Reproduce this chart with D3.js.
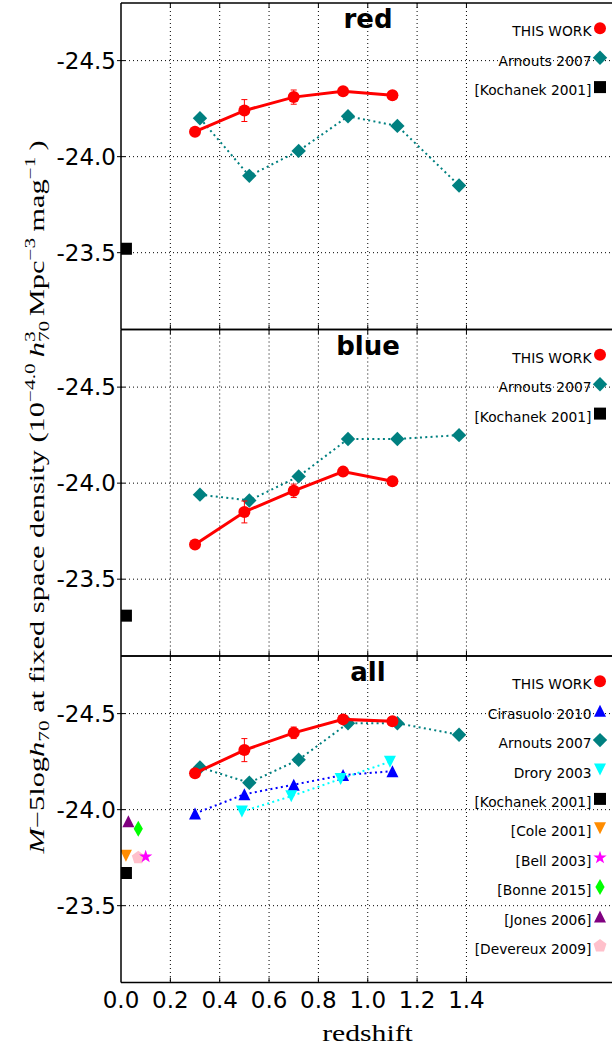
<!DOCTYPE html>
<html><head><meta charset="utf-8">
<script src="https://cdn.jsdelivr.net/npm/d3@7"></script>
<style>body{margin:0;background:#fff}svg{display:block}</style>
</head><body><svg id="c" width="612" height="1051"></svg>
<script>
// ---------- data ----------
const zThis = [0.30, 0.50, 0.70, 0.90, 1.10];
const zArnouts = [0.32, 0.52, 0.72, 0.92, 1.12, 1.37];
const zCirasuolo = [0.30, 0.50, 0.70, 0.90, 1.10];
const zDrory = [0.49, 0.69, 0.89, 1.09];

const redThis = [-24.13, -24.24, -24.31, -24.34, -24.32];
const redThisErr = [0.01, 0.057, 0.037, 0.02, 0.01];
const redArnouts = [-24.20, -23.90, -24.03, -24.21, -24.16, -23.85];
const redKochanek = [[0.02, -23.52]];

const blueThis = [-23.68, -23.85, -23.96, -24.06, -24.01];
const blueThisErr = [0.01, 0.057, 0.035, 0.015, 0.01];
const blueArnouts = [-23.94, -23.91, -24.035, -24.23, -24.23, -24.25];
const blueKochanek = [[0.02, -23.31]];

const allThis = [-24.19, -24.31, -24.40, -24.47, -24.46];
const allThisErr = [0.015, 0.06, 0.03, 0.015, 0.01];
const allArnouts = [-24.22, -24.14, -24.26, -24.45, -24.45, -24.39];
const allCirasuolo = [-23.98, -24.08, -24.13, -24.18, -24.20];
const allDrory = [-23.99, -24.07, -24.16, -24.25];
const allKochanek = [[0.02, -23.67]];
const allCole = [[0.02, -23.76]];
const allBell = [[0.10, -23.755]];
const allBonne = [[0.07, -23.90]];
const allJones = [[0.03, -23.94]];
const allDevereux = [[0.07, -23.75]];

const xTicks = [0.0, 0.2, 0.4, 0.6, 0.8, 1.0, 1.2, 1.4];
const xTickLabels = ["0.0", "0.2", "0.4", "0.6", "0.8", "1.0", "1.2", "1.4"];
const yTicks = [-24.5, -24.0, -23.5];
const yTickLabels = ["-24.5", "-24.0", "-23.5"];
const panelTitles = ["red", "blue", "all"];

// ---------- layout ----------
const svg = d3.select("#c");
const left = 121, right = 614.5, top0 = 3, panelH = 326.5;
const x = d3.scaleLinear().domain([0, 2]).range([left, right]);
const zip = (a, b) => a.map((v, i) => [v, b[i]]);

function shape(type) {
  const s = 6;
  switch (type) {
    case "circle": return d3.symbol(d3.symbolCircle, Math.PI * 36)();
    case "diamond": return "M0,-7.2L7.2,0L0,7.2L-7.2,0Z";
    case "thin": return "M0,-8L4.6,0L0,8L-4.6,0Z";
    case "up": return `M0,${-s}L${s},${s}L${-s},${s}Z`;
    case "down": return `M0,${s}L${s},${-s}L${-s},${-s}Z`;
    case "square": return "M-6,-6H6V6H-6Z";
    case "star": {
      let p = [];
      for (let k = 0; k < 10; k++) {
        const r = k % 2 ? 2.7 : 7, a = -Math.PI / 2 + k * Math.PI / 5;
        p.push([r * Math.cos(a), r * Math.sin(a)]);
      }
      return "M" + p.map(q => q.join(",")).join("L") + "Z";
    }
    case "pentagon": {
      let p = [];
      for (let k = 0; k < 5; k++) {
        const a = -Math.PI / 2 + k * 2 * Math.PI / 5;
        p.push([6.8 * Math.cos(a), 6.8 * Math.sin(a)]);
      }
      return "M" + p.map(q => q.join(",")).join("L") + "Z";
    }
  }
}

const C = {
  red: "#ff0000", teal: "#008080", blue: "#0000ff", cyan: "#00ffff",
  black: "#000000", orange: "#ff8c00", magenta: "#ff00ff", green: "#00ff00",
  purple: "#800080", pink: "#ffc0cb"
};

const panels = [
  {
    title: panelTitles[0],
    series: [
      { pts: zip(zArnouts, redArnouts), color: C.teal, sym: "diamond", line: "dot" },
      { pts: redKochanek, color: C.black, sym: "square" },
    ],
    thisWork: zip(zThis, redThis), err: redThisErr,
    legend: [["THIS WORK", "circle", C.red], ["Arnouts 2007", "diamond", C.teal], ["[Kochanek 2001]", "square", C.black]]
  },
  {
    title: panelTitles[1],
    series: [
      { pts: zip(zArnouts, blueArnouts), color: C.teal, sym: "diamond", line: "dot" },
      { pts: blueKochanek, color: C.black, sym: "square" },
    ],
    thisWork: zip(zThis, blueThis), err: blueThisErr,
    legend: [["THIS WORK", "circle", C.red], ["Arnouts 2007", "diamond", C.teal], ["[Kochanek 2001]", "square", C.black]]
  },
  {
    title: panelTitles[2],
    series: [
      { pts: zip(zArnouts, allArnouts), color: C.teal, sym: "diamond", line: "dot" },
      { pts: zip(zCirasuolo, allCirasuolo), color: C.blue, sym: "up", line: "dot" },
      { pts: zip(zDrory, allDrory), color: C.cyan, sym: "down", line: "dot" },
      { pts: allKochanek, color: C.black, sym: "square" },
      { pts: allCole, color: C.orange, sym: "down" },
      { pts: allDevereux, color: C.pink, sym: "pentagon" },
      { pts: allBell, color: C.magenta, sym: "star" },
      { pts: allBonne, color: C.green, sym: "thin" },
      { pts: allJones, color: C.purple, sym: "up" },
    ],
    thisWork: zip(zThis, allThis), err: allThisErr,
    legend: [["THIS WORK", "circle", C.red], ["Cirasuolo 2010", "up", C.blue], ["Arnouts 2007", "diamond", C.teal],
      ["Drory 2003", "down", C.cyan], ["[Kochanek 2001]", "square", C.black], ["[Cole 2001]", "down", C.orange],
      ["[Bell 2003]", "star", C.magenta], ["[Bonne 2015]", "thin", C.green], ["[Jones 2006]", "up", C.purple],
      ["[Devereux 2009]", "pentagon", C.pink]]
  }
];

panels.forEach((p, i) => {
  const top = top0 + i * panelH, bottom = top + panelH;
  const y = d3.scaleLinear().domain([-23.1, -24.8]).range([bottom, top]);
  const g = svg.append("g");

  const cid = "clip" + i;
  svg.append("clipPath").attr("id", cid).append("rect")
    .attr("x", left).attr("y", top).attr("width", right - left).attr("height", panelH);
  const plot = g.append("g").attr("clip-path", `url(#${cid})`);

  plot.selectAll(".gx").data(xTicks.filter(t => t > 0)).join("line")
    .attr("x1", d => x(d)).attr("x2", d => x(d)).attr("y1", top).attr("y2", bottom)
    .attr("stroke", "#000").attr("stroke-width", 1).attr("stroke-dasharray", "1,3");
  plot.selectAll(".gy").data(yTicks).join("line")
    .attr("x1", left).attr("x2", right).attr("y1", d => y(d)).attr("y2", d => y(d))
    .attr("stroke", "#000").attr("stroke-width", 1).attr("stroke-dasharray", "1,3");

  xTicks.filter(t => t > 0).forEach(t => {
    g.append("line").attr("x1", x(t)).attr("x2", x(t)).attr("y1", bottom).attr("y2", bottom - 5).attr("stroke", "#000");
    g.append("line").attr("x1", x(t)).attr("x2", x(t)).attr("y1", top).attr("y2", top + 5).attr("stroke", "#000");
  });
  yTicks.forEach(t => {
    g.append("line").attr("x1", left - 4).attr("x2", left + 4).attr("y1", y(t)).attr("y2", y(t)).attr("stroke", "#000");
  });

  const line = d3.line().x(d => x(d[0])).y(d => y(d[1]));
  p.series.forEach(s => {
    if (s.line) {
      plot.append("path").attr("d", line(s.pts)).attr("fill", "none")
        .attr("stroke", s.color).attr("stroke-width", 2).attr("stroke-dasharray", "2,3.3");
    }
    plot.selectAll(null).data(s.pts).join("path")
      .attr("d", shape(s.sym)).attr("fill", s.color)
      .attr("transform", d => `translate(${x(d[0])},${y(d[1])})`);
  });

  p.thisWork.forEach((d, k) => {
    const e = p.err[k], cx = x(d[0]);
    plot.append("line").attr("x1", cx).attr("x2", cx).attr("y1", y(d[1] - e)).attr("y2", y(d[1] + e)).attr("stroke", C.red).attr("stroke-width", 1);
    [d[1] - e, d[1] + e].forEach(v => plot.append("line").attr("x1", cx - 3).attr("x2", cx + 3).attr("y1", y(v)).attr("y2", y(v)).attr("stroke", C.red).attr("stroke-width", 1));
  });
  plot.append("path").attr("d", line(p.thisWork)).attr("fill", "none").attr("stroke", C.red).attr("stroke-width", 3);
  plot.selectAll(null).data(p.thisWork).join("path")
    .attr("d", shape("circle")).attr("fill", C.red)
    .attr("transform", d => `translate(${x(d[0])},${y(d[1])})`);

  p.legend.forEach((L, k) => {
    const ty = top + 28.3 + k * 29.4;
    g.append("text").attr("x", 591.5).attr("y", ty + 5).attr("text-anchor", "end")
      .attr("font-family", "DejaVu Sans").attr("font-size", 13.8).attr("fill", "#000").text(L[0]);
    g.append("path").attr("d", shape(L[1])).attr("fill", L[2])
      .attr("transform", `translate(600,${ty - 3})`);
  });

  g.append("text").attr("x", 368).attr("y", top + 25).attr("text-anchor", "middle")
    .attr("font-family", "DejaVu Sans").attr("font-weight", "bold").attr("font-size", 26).text(p.title);

  yTicks.forEach((t, k) => {
    g.append("text").attr("x", 116).attr("y", y(t) + 8.3).attr("text-anchor", "end")
      .attr("font-family", "DejaVu Sans").attr("font-size", 23).text(yTickLabels[k]);
  });

  g.append("line").attr("x1", left).attr("x2", left).attr("y1", top).attr("y2", bottom).attr("stroke", "#000").attr("stroke-width", 1.5);
  g.append("line").attr("x1", left).attr("x2", right).attr("y1", top).attr("y2", top).attr("stroke", "#000").attr("stroke-width", 1.5);
  g.append("line").attr("x1", left).attr("x2", right).attr("y1", bottom).attr("y2", bottom).attr("stroke", "#000").attr("stroke-width", 1.5);
});

xTicks.forEach((t, k) => {
  svg.append("text").attr("x", x(t)).attr("y", 1007.5).attr("text-anchor", "middle")
    .attr("font-family", "DejaVu Sans").attr("font-size", 23).text(xTickLabels[k]);
});

const serif = "'Liberation Serif', 'Times New Roman', serif";
const xl = svg.append("text").attr("text-anchor", "middle")
  .attr("font-family", serif).attr("font-size", 24).text("redshift");
{
  const w = xl.node().getBBox().width;
  xl.attr("transform", `translate(367.5,1041) scale(${91 / w},1)`);
}

// y label with sub/superscripts
const yl = svg.append("text").attr("text-anchor", "start")
  .attr("font-family", serif).attr("font-size", 20);
function span(txt, opt) {
  return yl.append("tspan").attr("font-size", opt.fs || 20)
    .attr("font-style", opt.it ? "italic" : "normal").attr("dy", opt.dy || 0).text(txt);
}
span("M", { it: 1 });
span("\u22125log", {});
span("h", { it: 1 });
const s70a = span("70", { fs: 14, dy: 5 });
span(" at fixed space density (10", { dy: -5 });
span("\u22124.0", { fs: 14, dy: -9 });
span("\u2009h", { it: 1, dy: 9 });
const s70b = span("70", { fs: 14, dy: 5 });
const s3 = span("3", { fs: 14, dy: -14 });
const sMpc = span("Mpc", { dy: 9 });
span("\u22123", { fs: 14, dy: -9 });
span("\u2009mag", { dy: 9 });
span("\u22121", { fs: 14, dy: -9 });
span("\u2009)", { dy: 9 });
{
  const w70 = s70b.node().getComputedTextLength();
  const w3 = s3.node().getComputedTextLength();
  s3.attr("dx", -w70);
  sMpc.attr("dx", w70 - w3 + 3);
  const bb = yl.node().getBBox();
  const w = bb.width, cx = bb.x + w / 2;
  const k = 715 / w;
  yl.attr("transform", `translate(43.5,497.5) rotate(-90) scale(${k},1) translate(${-cx},0)`);
}
</script></body></html>
